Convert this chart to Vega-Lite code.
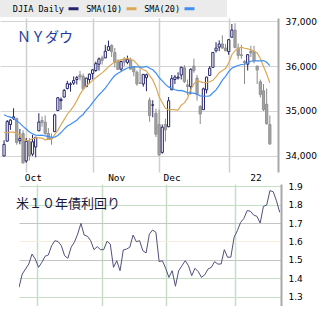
{
  "$schema": "https://vega.github.io/schema/vega-lite/v6.json",
  "padding": 0,
  "background": "white",
  "spacing": 0,
  "config": {"view": {"stroke": null}, "font": "DejaVu Sans"},
  "datasets": {
    "djia": [
      {"t":0,"o":34000,"h":34350,"l":33990,"c":34258,"SMA(10)":34523,"SMA(20)":34916},
      {"t":1,"o":34330,"h":34800,"l":34320,"c":34765,"SMA(10)":34512,"SMA(20)":34884},
      {"t":2,"o":34700,"h":34820,"l":34580,"c":34798,"SMA(10)":34531,"SMA(20)":34863},
      {"t":3,"o":34840,"h":35060,"l":34800,"c":34870,"SMA(10)":34531,"SMA(20)":34834},
      {"t":4,"o":34830,"h":34850,"l":34250,"c":34299,"SMA(10)":34503,"SMA(20)":34779},
      {"t":5,"o":34340,"h":34600,"l":34260,"c":34390,"SMA(10)":34460,"SMA(20)":34731},
      {"t":6,"o":34500,"h":34570,"l":33840,"c":33844,"SMA(10)":34370,"SMA(20)":34657},
      {"t":7,"o":33890,"h":34400,"l":33850,"c":34326,"SMA(10)":34344,"SMA(20)":34601},
      {"t":8,"o":34320,"h":34400,"l":33900,"c":34003,"SMA(10)":34347,"SMA(20)":34533},
      {"t":9,"o":34040,"h":34470,"l":34000,"c":34315,"SMA(10)":34387,"SMA(20)":34494},
      {"t":10,"o":34200,"h":34420,"l":33970,"c":34417,"SMA(10)":34403,"SMA(20)":34463},
      {"t":11,"o":34560,"h":34950,"l":34550,"c":34755,"SMA(10)":34402,"SMA(20)":34457},
      {"t":12,"o":34790,"h":34880,"l":34650,"c":34746,"SMA(10)":34397,"SMA(20)":34464},
      {"t":13,"o":34750,"h":34900,"l":34470,"c":34496,"SMA(10)":34359,"SMA(20)":34445},
      {"t":14,"o":34500,"h":34620,"l":34360,"c":34378,"SMA(10)":34367,"SMA(20)":34435},
      {"t":15,"o":34390,"h":34500,"l":34250,"c":34377,"SMA(10)":34366,"SMA(20)":34413},
      {"t":16,"o":34540,"h":34940,"l":34540,"c":34912,"SMA(10)":34473,"SMA(20)":34421},
      {"t":17,"o":35010,"h":35310,"l":35000,"c":35295,"SMA(10)":34569,"SMA(20)":34457},
      {"t":18,"o":35230,"h":35300,"l":35030,"c":35259,"SMA(10)":34695,"SMA(20)":34521},
      {"t":19,"o":35310,"h":35490,"l":35300,"c":35457,"SMA(10)":34809,"SMA(20)":34598},
      {"t":20,"o":35500,"h":35670,"l":35480,"c":35609,"SMA(10)":34928,"SMA(20)":34666},
      {"t":21,"o":35590,"h":35640,"l":35430,"c":35603,"SMA(10)":35013,"SMA(20)":34707},
      {"t":22,"o":35620,"h":35770,"l":35580,"c":35677,"SMA(10)":35106,"SMA(20)":34751},
      {"t":23,"o":35700,"h":35780,"l":35590,"c":35742,"SMA(10)":35231,"SMA(20)":34795},
      {"t":24,"o":35800,"h":35890,"l":35680,"c":35757,"SMA(10)":35369,"SMA(20)":34868},
      {"t":25,"o":35770,"h":35830,"l":35480,"c":35491,"SMA(10)":35480,"SMA(20)":34923},
      {"t":26,"o":35540,"h":35740,"l":35540,"c":35731,"SMA(10)":35562,"SMA(20)":35017},
      {"t":27,"o":35700,"h":35830,"l":35600,"c":35820,"SMA(10)":35615,"SMA(20)":35092},
      {"t":28,"o":35830,"h":35930,"l":35700,"c":35914,"SMA(10)":35680,"SMA(20)":35188},
      {"t":29,"o":35900,"h":36100,"l":35870,"c":36053,"SMA(10)":35740,"SMA(20)":35274},
      {"t":30,"o":36040,"h":36190,"l":35900,"c":36158,"SMA(10)":35795,"SMA(20)":35362},
      {"t":31,"o":36180,"h":36230,"l":36030,"c":36124,"SMA(10)":35847,"SMA(20)":35430},
      {"t":32,"o":36180,"h":36470,"l":36180,"c":36328,"SMA(10)":35912,"SMA(20)":35509},
      {"t":33,"o":36350,"h":36565,"l":36340,"c":36432,"SMA(10)":35981,"SMA(20)":35606},
      {"t":34,"o":36460,"h":36480,"l":36200,"c":36320,"SMA(10)":36037,"SMA(20)":35703},
      {"t":35,"o":36300,"h":36400,"l":35970,"c":36080,"SMA(10)":36096,"SMA(20)":35788},
      {"t":36,"o":36110,"h":36150,"l":35920,"c":35921,"SMA(10)":36115,"SMA(20)":35839},
      {"t":37,"o":35930,"h":36120,"l":35890,"c":36100,"SMA(10)":36143,"SMA(20)":35879},
      {"t":38,"o":36150,"h":36200,"l":35990,"c":36087,"SMA(10)":36160,"SMA(20)":35920},
      {"t":39,"o":36080,"h":36230,"l":36040,"c":36143,"SMA(10)":36169,"SMA(20)":35955},
      {"t":40,"o":36140,"h":36190,"l":35920,"c":35931,"SMA(10)":36147,"SMA(20)":35971},
      {"t":41,"o":35970,"h":36000,"l":35770,"c":35871,"SMA(10)":36121,"SMA(20)":35984},
      {"t":42,"o":35860,"h":35900,"l":35560,"c":35602,"SMA(10)":36049,"SMA(20)":35980},
      {"t":43,"o":35620,"h":35950,"l":35600,"c":35619,"SMA(10)":35967,"SMA(20)":35974},
      {"t":44,"o":35600,"h":35820,"l":35540,"c":35814,"SMA(10)":35917,"SMA(20)":35977},
      {"t":45,"o":35740,"h":35830,"l":35440,"c":35805,"SMA(10)":35889,"SMA(20)":35993},
      {"t":46,"o":35240,"h":35300,"l":34760,"c":34899,"SMA(10)":35787,"SMA(20)":35951},
      {"t":47,"o":35130,"h":35240,"l":34860,"c":35136,"SMA(10)":35691,"SMA(20)":35917},
      {"t":48,"o":34950,"h":35050,"l":34420,"c":34484,"SMA(10)":35530,"SMA(20)":35845},
      {"t":49,"o":34700,"h":35030,"l":34006,"c":34022,"SMA(10)":35318,"SMA(20)":35744},
      {"t":50,"o":34080,"h":34700,"l":34050,"c":34640,"SMA(10)":35189,"SMA(20)":35668},
      {"t":51,"o":34700,"h":34830,"l":34320,"c":34580,"SMA(10)":35060,"SMA(20)":35591},
      {"t":52,"o":34650,"h":35310,"l":34640,"c":35227,"SMA(10)":35023,"SMA(20)":35536},
      {"t":53,"o":35470,"h":35800,"l":35470,"c":35719,"SMA(10)":35033,"SMA(20)":35500},
      {"t":54,"o":35700,"h":35800,"l":35600,"c":35755,"SMA(10)":35027,"SMA(20)":35472},
      {"t":55,"o":35730,"h":35860,"l":35700,"c":35754,"SMA(10)":35022,"SMA(20)":35455},
      {"t":56,"o":35800,"h":35990,"l":35700,"c":35971,"SMA(10)":35129,"SMA(20)":35458},
      {"t":57,"o":35960,"h":36020,"l":35620,"c":35651,"SMA(10)":35180,"SMA(20)":35436},
      {"t":58,"o":35580,"h":35700,"l":35350,"c":35545,"SMA(10)":35286,"SMA(20)":35408},
      {"t":59,"o":35540,"h":35950,"l":35370,"c":35927,"SMA(10)":35477,"SMA(20)":35398},
      {"t":60,"o":36000,"h":36160,"l":35850,"c":35898,"SMA(10)":35603,"SMA(20)":35396},
      {"t":61,"o":35730,"h":35800,"l":35230,"c":35365,"SMA(10)":35681,"SMA(20)":35371},
      {"t":62,"o":35100,"h":35130,"l":34710,"c":34932,"SMA(10)":35652,"SMA(20)":35337},
      {"t":63,"o":35030,"h":35520,"l":35030,"c":35493,"SMA(10)":35629,"SMA(20)":35331},
      {"t":64,"o":35470,"h":35760,"l":35390,"c":35754,"SMA(10)":35629,"SMA(20)":35328},
      {"t":65,"o":35790,"h":36000,"l":35790,"c":35951,"SMA(10)":35649,"SMA(20)":35335},
      {"t":66,"o":35970,"h":36310,"l":35970,"c":36302,"SMA(10)":35682,"SMA(20)":35405},
      {"t":67,"o":36340,"h":36530,"l":36300,"c":36398,"SMA(10)":35757,"SMA(20)":35468},
      {"t":68,"o":36420,"h":36570,"l":36330,"c":36488,"SMA(10)":35851,"SMA(20)":35569},
      {"t":69,"o":36490,"h":36680,"l":36390,"c":36398,"SMA(10)":35898,"SMA(20)":35687},
      {"t":70,"o":36400,"h":36490,"l":36330,"c":36338,"SMA(10)":35942,"SMA(20)":35772},
      {"t":71,"o":36320,"h":36600,"l":36250,"c":36585,"SMA(10)":36064,"SMA(20)":35873},
      {"t":72,"o":36640,"h":36934,"l":36640,"c":36800,"SMA(10)":36251,"SMA(20)":35951},
      {"t":73,"o":36800,"h":36950,"l":36400,"c":36408,"SMA(10)":36342,"SMA(20)":35986},
      {"t":74,"o":36400,"h":36500,"l":36150,"c":36236,"SMA(10)":36390,"SMA(20)":36010},
      {"t":75,"o":36250,"h":36470,"l":36160,"c":36232,"SMA(10)":36419,"SMA(20)":36034},
      {"t":76,"o":36100,"h":36130,"l":35600,"c":36069,"SMA(10)":36395,"SMA(20)":36039},
      {"t":77,"o":36040,"h":36260,"l":35900,"c":36252,"SMA(10)":36381,"SMA(20)":36069},
      {"t":78,"o":36330,"h":36450,"l":36200,"c":36290,"SMA(10)":36361,"SMA(20)":36106},
      {"t":79,"o":36320,"h":36450,"l":36060,"c":36114,"SMA(10)":36332,"SMA(20)":36115},
      {"t":80,"o":36000,"h":36000,"l":35600,"c":35912,"SMA(10)":36290,"SMA(20)":36116},
      {"t":81,"o":35650,"h":35700,"l":35300,"c":35369,"SMA(10)":36168,"SMA(20)":36116},
      {"t":82,"o":35450,"h":35600,"l":35000,"c":35029,"SMA(10)":35991,"SMA(20)":36121},
      {"t":83,"o":35150,"h":35500,"l":34700,"c":34715,"SMA(10)":35822,"SMA(20)":36082},
      {"t":84,"o":34700,"h":34900,"l":34260,"c":34265,"SMA(10)":35625,"SMA(20)":36008}
    ],
    "y10": [
      {"u":1,"v":1.352},{"u":2,"v":1.424},{"u":3,"v":1.451},{"u":4,"v":1.478},{"u":5,"v":1.532},
      {"u":6,"v":1.505},{"u":7,"v":1.46},{"u":8,"v":1.487},{"u":9,"v":1.52},{"u":10,"v":1.527},
      {"u":11,"v":1.577},{"u":12,"v":1.604},{"u":13,"v":1.6},{"u":14,"v":1.577},{"u":15,"v":1.523},
      {"u":16,"v":1.509},{"u":17,"v":1.569},{"u":18,"v":1.596},{"u":19,"v":1.64},{"u":20,"v":1.698},
      {"u":21,"v":1.635},{"u":22,"v":1.628},{"u":23,"v":1.604},{"u":24,"v":1.556},{"u":25,"v":1.572},
      {"u":26,"v":1.556},{"u":27,"v":1.556},{"u":28,"v":1.601},{"u":29,"v":1.586},{"u":30,"v":1.46},
      {"u":31,"v":1.496},{"u":32,"v":1.442},{"u":33,"v":1.554},{"u":34,"v":1.559},{"u":35,"v":1.569},
      {"u":36,"v":1.635},{"u":37,"v":1.599},{"u":38,"v":1.604},{"u":39,"v":1.55},{"u":40,"v":1.538},
      {"u":41,"v":1.64},{"u":42,"v":1.662},{"u":43,"v":1.65},{"u":44,"v":1.491},{"u":45,"v":1.496},
      {"u":46,"v":1.455},{"u":47,"v":1.406},{"u":48,"v":1.442},{"u":49,"v":1.358},{"u":50,"v":1.442},
      {"u":51,"v":1.469},{"u":52,"v":1.496},{"u":53,"v":1.469},{"u":54,"v":1.415},{"u":55,"v":1.455},
      {"u":56,"v":1.437},{"u":57,"v":1.406},{"u":58,"v":1.42},{"u":59,"v":1.451},{"u":60,"v":1.46},
      {"u":61,"v":1.491},{"u":62,"v":1.478},{"u":63,"v":1.478},{"u":64,"v":1.556},{"u":65,"v":1.515},
      {"u":66,"v":1.515},{"u":67,"v":1.623},{"u":68,"v":1.659},{"u":69,"v":1.703},{"u":70,"v":1.725},
      {"u":71,"v":1.767},{"u":72,"v":1.764},{"u":73,"v":1.743},{"u":74,"v":1.736},{"u":75,"v":1.7},
      {"u":76,"v":1.79},{"u":77,"v":1.797},{"u":78,"v":1.875},{"u":79,"v":1.869},{"u":80,"v":1.82},
      {"u":81,"v":1.758}
    ]
  },
  "vconcat": [
    {
      "width": 278,
      "height": 154,
      "title": {"text": "ＮＹダウ", "anchor": "start", "frame": "group", "orient": "top", "baseline": "top", "offset": 0, "dx": 17, "dy": 28, "font": "Noto Sans CJK JP", "fontSize": 14, "fontWeight": "normal", "color": "#1c3c9c"},
      "data": {"name": "djia"},
      "encoding": {
        "x": {"field": "t", "type": "quantitative", "scale": {"domain": [0.3, 85.0], "nice": false, "zero": false},
          "axis": {"title": null, "values": [7, 28, 49, 71], "grid": true, "gridColor": "#cfcfcf", "gridWidth": 1.5, "ticks": false, "domain": false,
            "labelExpr": "datum.value == 7 ? 'Oct' : datum.value == 28 ? 'Nov' : datum.value == 49 ? 'Dec' : '22'",
            "labelAlign": "left", "labelFont": "DejaVu Sans Mono", "labelFontSize": 9.5, "labelColor": "#000000", "labelPadding": 0, "labelFlush": false, "labelOverlap": false,
            "labelOffset": {"condition": [{"test": "datum.value == 7", "value": -2}, {"test": "datum.value == 28", "value": 15}, {"test": "datum.value == 49", "value": 4}], "value": 21}}}
      },
      "layer": [
        {
          "mark": {"type": "rule", "clip": true, "strokeWidth": 1},
          "encoding": {
            "y": {"field": "l", "type": "quantitative", "scale": {"domain": [33644, 37067], "nice": false, "zero": false},
              "axis": {"orient": "right", "title": null, "values": [34000, 34500, 35000, 35500, 36000, 36500, 37000], "format": ",.0f", "grid": true, "gridColor": "#d4d4d4", "gridWidth": 1, "ticks": false, "domain": true, "domainColor": "#a8a8a8", "domainWidth": 2, "labelFont": "DejaVu Sans", "labelFontSize": 9, "labelColor": "#000000", "labelPadding": 7}},
            "y2": {"field": "h"},
            "color": {"condition": {"test": "datum.c > datum.o", "value": "#24246a"}, "value": "#8c8c8c"}
          }
        },
        {
          "mark": {"type": "bar", "width": 2.2, "strokeWidth": 1, "clip": true},
          "encoding": {
            "y": {"field": "o", "type": "quantitative"},
            "y2": {"field": "c"},
            "fill": {"condition": {"test": "datum.c > datum.o", "value": "#ffffff"}, "value": "#a4a4a4"},
            "stroke": {"condition": {"test": "datum.c > datum.o", "value": "#24246a"}, "value": "#909090"}
          }
        },
        {
          "transform": [{"fold": ["SMA(10)", "SMA(20)"], "as": ["series", "v"]}],
          "mark": {"type": "line", "strokeWidth": 1.2, "clip": true},
          "encoding": {
            "y": {"field": "v", "type": "quantitative"},
            "color": {"field": "series", "type": "nominal",
              "scale": {"domain": ["DJIA Daily", "SMA(10)", "SMA(20)", "           "], "range": ["#24246a", "#dca858", "#3f8ef0", "rgba(0,0,0,0)"]},
              "legend": {"orient": "top", "direction": "horizontal", "title": " ", "titleOrient": "left", "titlePadding": 65, "titleFont": "DejaVu Sans Mono", "titleFontSize": 8.5,
                "fillColor": "#ebebeb", "padding": 2, "offset": 0,
                "labelExpr": "datum.label == 'SMA(10)' ? '             SMA(10)' : datum.label",
                "labelFont": "DejaVu Sans Mono", "labelFontSize": 8.5, "labelColor": "#000000",
                "symbolType": "stroke", "symbolStrokeWidth": 3, "symbolSize": 100, "labelAlign": "right", "labelOffset": -16, "columnPadding": 1}}
          }
        }
      ]
    },
    {
      "spacing": 0,
      "hconcat": [
        {
          "width": 16,
          "height": 122,
          "data": {"values": []},
          "mark": "point"
        },
        {
          "width": 262,
          "height": 122,
          "title": {"text": "米１０年債利回り", "anchor": "start", "frame": "group", "orient": "top", "baseline": "top", "offset": 0, "dx": -3, "dy": 29, "font": "Noto Sans CJK JP", "fontSize": 13, "fontWeight": "normal", "color": "#1a1a40"},
          "data": {"name": "y10"},
          "mark": {"type": "line", "color": "#50507e", "strokeWidth": 1, "clip": true},
          "encoding": {
            "x": {"field": "u", "type": "quantitative", "scale": {"domain": [1, 81.39], "nice": false, "zero": false},
              "axis": {"title": null, "values": [6.52, 26.47, 46.1, 67.28], "grid": true, "gridColor": "#c6dec6", "gridWidth": 1.5, "labels": false, "ticks": false, "domain": false}},
            "y": {"field": "v", "type": "quantitative", "scale": {"domain": [1.251, 1.911], "nice": false, "zero": false},
              "axis": {"orient": "right", "title": null, "values": [1.3, 1.4, 1.5, 1.6, 1.7, 1.8, 1.9], "format": ".1f", "grid": true,
                "gridColor": {"condition": [{"test": "datum.value == 1.6", "value": "#f6ecdc"}, {"test": "datum.value == 1.7 || datum.value == 1.5", "value": "#c4c4c4"}], "value": "#c6dec6"},
                "ticks": false, "domain": true, "domainColor": "#a8a8a8", "domainWidth": 2, "labelFont": "DejaVu Sans", "labelFontSize": 9, "labelColor": "#000000", "labelPadding": 7}}
          }
        }
      ]
    }
  ]
}
